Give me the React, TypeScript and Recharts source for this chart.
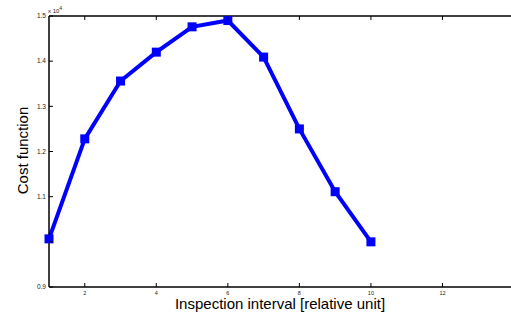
import { LineChart, Line, XAxis, YAxis } from 'recharts'

// inspection interval (relative unit) and cost function values
const intervals = [1, 2, 3, 4, 5, 6, 7, 8, 9, 10]
const costValues = [10066, 12280, 13560, 14200, 14760, 14900, 14090, 12500, 11110, 10000]

const xTicks = [2, 4, 6, 8, 10, 12, 14]
const yTicks = [9000, 10000, 11000, 12000, 13000, 14000, 15000]

const data = intervals.map((x, i) => ({ x, cost: costValues[i] }))

const font = '"Liberation Sans", Arial, sans-serif'

const formatY = (v: number) => {
  if (v === 10000) return '' // hidden in the original
  return (v / 10000).toFixed(1)
}

// ticks point inward, like matlab
// eslint-disable-next-line @typescript-eslint/no-explicit-any
const BottomTick = ({ x, y, payload }: any) => (
  <g>
    <line x1={x} y1={y} x2={x} y2={y - 4} stroke="#000" strokeWidth={1} />
    <text x={x} y={y + 7.5} textAnchor="middle" fontSize={5.5} fontFamily={font} fill="#222">
      {payload.value}
    </text>
  </g>
)

// eslint-disable-next-line @typescript-eslint/no-explicit-any
const TopTick = ({ x, y }: any) => (
  <line x1={x} y1={y} x2={x} y2={y + 4} stroke="#000" strokeWidth={1} />
)

// eslint-disable-next-line @typescript-eslint/no-explicit-any
const LeftTick = ({ x, y, payload }: any) => (
  <g>
    <line x1={x} y1={y} x2={x + 4} y2={y} stroke="#000" strokeWidth={1} />
    <text x={x - 3} y={y + 2.2} textAnchor="end" fontSize={6.5} fontFamily={font} fill="#222">
      {formatY(payload.value)}
    </text>
  </g>
)

// eslint-disable-next-line @typescript-eslint/no-explicit-any
const RightTick = ({ x, y }: any) => (
  <line x1={x} y1={y} x2={x - 4} y2={y} stroke="#000" strokeWidth={1} />
)

// eslint-disable-next-line @typescript-eslint/no-explicit-any
const SquareDot = ({ cx, cy, index }: any) => (
  <rect key={index} x={cx - 4.5} y={cy - 4.5} width={9} height={9} fill="#0000ff" />
)

export default function App() {
  return (
    <div
      style={{
        position: 'absolute',
        left: 0,
        top: 0,
        width: 511,
        height: 318,
        overflow: 'hidden',
        background: '#fff',
      }}
    >
      <LineChart
        width={520}
        height={318}
        data={data}
        margin={{ top: 15, right: 5, bottom: 30, left: 48 }}
      >
        <XAxis
          dataKey="x"
          type="number"
          domain={[1, 14]}
          ticks={xTicks}
          height={1}
          tickSize={0}
          tickMargin={0}
          tickLine={false}
          tick={<BottomTick />}
          axisLine={{ stroke: '#000', strokeWidth: 1.5 }}
          interval={0}
        />
        <XAxis
          xAxisId="top"
          orientation="top"
          dataKey="x"
          type="number"
          domain={[1, 14]}
          ticks={xTicks}
          height={1}
          tickSize={0}
          tickMargin={0}
          tickLine={false}
          tick={<TopTick />}
          axisLine={{ stroke: '#000', strokeWidth: 1.5 }}
          interval={0}
        />
        <YAxis
          type="number"
          domain={[9000, 15000]}
          ticks={yTicks}
          width={1}
          tickSize={0}
          tickMargin={0}
          tickLine={false}
          tick={<LeftTick />}
          axisLine={{ stroke: '#000', strokeWidth: 1.5 }}
          interval={0}
        />
        <YAxis
          yAxisId="right"
          orientation="right"
          type="number"
          domain={[9000, 15000]}
          ticks={yTicks}
          width={1}
          tickSize={0}
          tickMargin={0}
          tickLine={false}
          tick={<RightTick />}
          axisLine={{ stroke: '#000', strokeWidth: 1.5 }}
          interval={0}
        />
        <Line
          type="linear"
          dataKey="cost"
          stroke="#0000ff"
          strokeWidth={4}
          dot={<SquareDot />}
          activeDot={false}
          isAnimationActive={false}
        />
      </LineChart>

      {/* exponent label */}
      <div
        style={{
          position: 'absolute',
          left: 48,
          top: 6,
          fontFamily: font,
          fontSize: 6,
          color: '#222',
          lineHeight: 1,
        }}
      >
        x 10<sup style={{ fontSize: 5, verticalAlign: 3 }}>4</sup>
      </div>

      <div
        style={{
          position: 'absolute',
          left: 0,
          width: 560,
          top: 295.5,
          textAlign: 'center',
          fontFamily: font,
          fontSize: 15,
          color: '#000',
          lineHeight: 1,
        }}
      >
        Inspection interval [relative unit]
      </div>

      <div
        style={{
          position: 'absolute',
          left: 22,
          top: 151,
          width: 160,
          marginLeft: -80,
          marginTop: -8,
          transform: 'rotate(-90deg)',
          textAlign: 'center',
          fontFamily: font,
          fontSize: 15,
          color: '#000',
          lineHeight: 1,
          whiteSpace: 'nowrap',
        }}
      >
        Cost function
      </div>
    </div>
  )
}
